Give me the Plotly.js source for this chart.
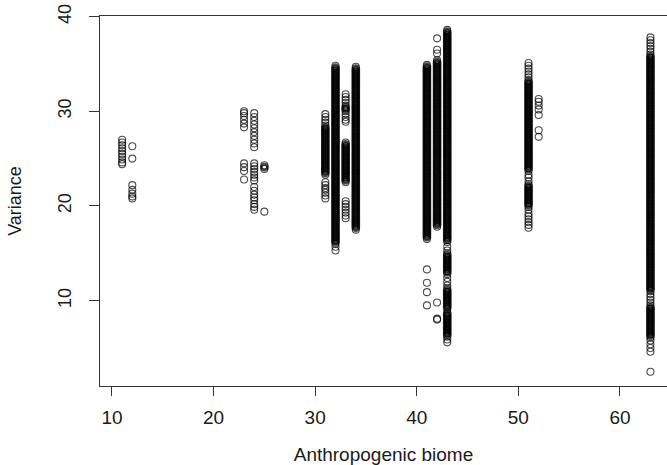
<!DOCTYPE html>
<html>
<head>
<meta charset="utf-8">
<script src="https://cdn.plot.ly/plotly-3.0.1.min.js"></script>
<style>html,body{margin:0;padding:0;background:#fff;}#chart{width:667px;height:465px;}</style>
</head>
<body>
<div id="chart"></div>
<script>
// Biome codes (x categories) and variance readings per biome
var biomes = [11, 12, 23, 24, 25, 31, 32, 33, 34, 41, 42, 43, 51, 52, 63];

var b11 = [27.0,26.7,26.4,26.1,25.8,25.5,25.2,24.9,24.6,24.4];
var b12 = [26.3,25.0,22.2,21.7,21.3,21.0,20.8];
var b23 = [30.0,29.8,29.5,29.1,28.7,28.3,24.5,24.1,23.7,22.8];
var b24 = [29.8,29.4,29.0,28.6,28.2,27.8,27.4,27.0,26.6,26.2,24.5,24.2,23.9,23.6,23.3,23.0,22.7,22.0,21.6,21.2,20.9,20.6,20.2,19.9,19.6];
var b25 = [24.3,24.1,23.9,19.4];
var b31 = [29.7,29.4,29.1,28.8,28.5,28.3,28.1,27.9,27.7,27.5,27.3,27.1,26.9,26.7,26.5,26.3,26.1,25.9,25.7,25.5,25.3,25.1,24.9,24.7,24.5,24.3,24.1,23.9,23.7,23.5,23.3,22.5,22.2,21.9,21.7,21.4,21.1,20.8];
var b32 = [34.8,34.6,34.4,34.2,34.0,33.8,33.6,33.4,33.2,33.0,32.8,32.6,32.4,32.2,32.0,31.8,31.6,31.4,31.2,31.0,30.8,30.6,30.4,30.2,30.0,29.8,29.6,29.4,29.2,29.0,28.8,28.6,28.4,28.2,28.0,27.8,27.6,27.4,27.2,27.0,26.8,26.6,26.4,26.2,26.0,25.8,25.6,25.4,25.2,25.0,24.8,24.6,24.4,24.2,24.0,23.8,23.6,23.4,23.2,23.0,22.8,22.6,22.4,22.2,22.0,21.8,21.6,21.4,21.2,21.0,20.8,20.6,20.4,20.2,20.0,19.8,19.6,19.4,19.2,19.0,18.8,18.6,18.4,18.2,18.0,17.8,17.6,17.4,17.2,17.0,16.8,16.6,16.4,16.2,16.0,15.7,15.3];
var b33 = [31.8,31.5,31.2,30.9,30.6,30.4,30.2,30.0,29.7,29.4,29.1,28.9,26.7,26.5,26.3,26.1,25.9,25.7,25.5,25.3,25.1,24.9,24.7,24.5,24.3,24.1,23.9,23.7,23.5,23.3,23.1,22.9,22.7,22.5,20.5,20.2,19.9,19.6,19.3,19.0,18.7];
var b34 = [34.7,34.5,34.3,34.1,33.9,33.7,33.5,33.3,33.1,32.9,32.7,32.5,32.3,32.1,31.9,31.7,31.5,31.3,31.1,30.9,30.7,30.5,30.3,30.1,29.9,29.7,29.5,29.3,29.1,28.9,28.7,28.5,28.3,28.1,27.9,27.7,27.5,27.3,27.1,26.9,26.7,26.5,26.3,26.1,25.9,25.7,25.5,25.3,25.1,24.9,24.7,24.5,24.3,24.1,23.9,23.7,23.5,23.3,23.1,22.9,22.7,22.5,22.3,22.1,21.9,21.7,21.5,21.3,21.1,20.9,20.7,20.5,20.3,20.1,19.9,19.7,19.5,19.3,19.1,18.9,18.7,18.5,18.3,18.1,17.9,17.7,17.5];
var b41 = [34.9,34.7,34.5,34.3,34.1,33.9,33.7,33.5,33.3,33.1,32.9,32.7,32.5,32.3,32.1,31.9,31.7,31.5,31.3,31.1,30.9,30.7,30.5,30.3,30.1,29.9,29.7,29.5,29.3,29.1,28.9,28.7,28.5,28.3,28.1,27.9,27.7,27.5,27.3,27.1,26.9,26.7,26.5,26.3,26.1,25.9,25.7,25.5,25.3,25.1,24.9,24.7,24.5,24.3,24.1,23.9,23.7,23.5,23.3,23.1,22.9,22.7,22.5,22.3,22.1,21.9,21.7,21.5,21.3,21.1,20.9,20.7,20.5,20.3,20.1,19.9,19.7,19.5,19.3,19.1,18.9,18.7,18.5,18.3,18.1,17.9,17.7,17.5,17.3,17.1,16.9,16.7,16.5,13.3,11.9,10.9,9.5];
var b42 = [37.7,36.5,36.1,35.4,35.2,35.0,34.8,34.6,34.4,34.2,34.0,33.8,33.6,33.4,33.2,33.0,32.8,32.6,32.4,32.2,32.0,31.8,31.6,31.4,31.2,31.0,30.8,30.6,30.4,30.2,30.0,29.8,29.6,29.4,29.2,29.0,28.8,28.6,28.4,28.2,28.0,27.8,27.6,27.4,27.2,27.0,26.8,26.6,26.4,26.2,26.0,25.8,25.6,25.4,25.2,25.0,24.8,24.6,24.4,24.2,24.0,23.8,23.6,23.4,23.2,23.0,22.8,22.6,22.4,22.2,22.0,21.8,21.6,21.4,21.2,21.0,20.8,20.6,20.4,20.2,20.0,19.8,19.6,19.4,19.2,19.0,18.8,18.6,18.4,18.2,18.0,17.8,9.8,8.1,8.0];
var b43 = [38.6,38.4,38.2,38.0,37.8,37.6,37.4,37.2,37.0,36.8,36.6,36.4,36.2,36.0,35.8,35.6,35.4,35.2,35.0,34.8,34.6,34.4,34.2,34.0,33.8,33.6,33.4,33.2,33.0,32.8,32.6,32.4,32.2,32.0,31.8,31.6,31.4,31.2,31.0,30.8,30.6,30.4,30.2,30.0,29.8,29.6,29.4,29.2,29.0,28.8,28.6,28.4,28.2,28.0,27.8,27.6,27.4,27.2,27.0,26.8,26.6,26.4,26.2,26.0,25.8,25.6,25.4,25.2,25.0,24.8,24.6,24.4,24.2,24.0,23.8,23.6,23.4,23.2,23.0,22.8,22.6,22.4,22.2,22.0,21.8,21.6,21.4,21.2,21.0,20.8,20.6,20.4,20.2,20.0,19.8,19.6,19.4,19.2,19.0,18.8,18.6,18.4,18.2,18.0,17.8,17.6,17.4,17.2,17.0,16.8,16.6,16.4,16.2,15.7,15.3,15.0,14.8,14.6,14.4,14.2,14.0,13.8,13.6,13.4,13.2,13.0,12.8,12.4,12.0,11.6,11.3,11.1,10.9,10.7,10.5,10.3,10.1,9.9,9.7,9.5,9.3,9.1,8.8,8.6,8.4,8.2,8.0,7.8,7.6,7.4,7.2,7.0,6.8,6.6,6.4,6.2,5.9,5.6];
var b51 = [35.1,34.8,34.5,34.2,33.9,33.6,33.3,33.1,32.9,32.7,32.5,32.3,32.1,31.9,31.7,31.5,31.3,31.1,30.9,30.7,30.5,30.3,30.1,29.9,29.7,29.5,29.3,29.1,28.9,28.7,28.5,28.3,28.1,27.9,27.7,27.5,27.3,27.1,26.9,26.7,26.5,26.3,26.1,25.9,25.7,25.5,25.3,25.1,24.9,24.7,24.5,24.3,24.1,23.9,23.7,23.3,23.0,22.6,22.3,22.1,21.9,21.7,21.5,21.3,21.1,20.9,20.7,20.5,20.3,20.1,19.9,19.6,19.2,18.9,18.6,18.3,18.0,17.7];
var b52 = [31.3,31.0,30.6,30.2,29.6,28.0,27.3];
var b63 = [37.8,37.5,37.2,36.9,36.6,36.3,36.0,35.8,35.6,35.4,35.2,35.0,34.8,34.6,34.4,34.2,34.0,33.8,33.6,33.4,33.2,33.0,32.8,32.6,32.4,32.2,32.0,31.8,31.6,31.4,31.2,31.0,30.8,30.6,30.4,30.2,30.0,29.8,29.6,29.4,29.2,29.0,28.8,28.6,28.4,28.2,28.0,27.8,27.6,27.4,27.2,27.0,26.8,26.6,26.4,26.2,26.0,25.8,25.6,25.4,25.2,25.0,24.8,24.6,24.4,24.2,24.0,23.8,23.6,23.4,23.2,23.0,22.8,22.6,22.4,22.2,22.0,21.8,21.6,21.4,21.2,21.0,20.8,20.6,20.4,20.2,20.0,19.8,19.6,19.4,19.2,19.0,18.8,18.6,18.4,18.2,18.0,17.8,17.6,17.4,17.2,17.0,16.8,16.6,16.4,16.2,16.0,15.8,15.6,15.4,15.2,15.0,14.8,14.6,14.4,14.2,14.0,13.8,13.6,13.4,13.2,13.0,12.8,12.6,12.4,12.2,12.0,11.8,11.6,11.4,11.2,11.0,10.7,10.4,10.1,9.8,9.5,9.3,9.1,8.9,8.7,8.5,8.3,8.1,7.9,7.7,7.5,7.3,7.1,6.9,6.7,6.5,6.3,6.1,5.8,5.4,5.0,4.6,2.5];

var xTicks = [10, 20, 30, 40, 50, 60];
var yTicks = [10, 20, 30, 40];

var groups = [b11, b12, b23, b24, b25, b31, b32, b33, b34, b41, b42, b43, b51, b52, b63];
var xs = [], ys = [], lw = [], ms = [];
for (var i = 0; i < biomes.length; i++) {
  var g = groups[i];
  for (var j = 0; j < g.length; j++) {
    xs.push(biomes[i]);
    ys.push(g[j]);
    // overlapping rings inside densely packed runs render as a solid bar
    var prev = j > 0 ? Math.abs(g[j - 1] - g[j]) : 99;
    var next = j < g.length - 1 ? Math.abs(g[j + 1] - g[j]) : 99;
    var dense = prev < 0.25 && next < 0.25;
    lw.push(dense ? 2.6 : 1.1);
    ms.push(dense ? 6.2 : 7);
  }
}

var font = 'Liberation Sans, Arial, sans-serif';
var trace = {
  x: xs, y: ys, type: 'scatter', mode: 'markers',
  marker: {symbol: 'circle-open', size: ms, color: '#000', line: {width: lw, color: '#000'}},
  hoverinfo: 'none'
};

var layout = {
  width: 667, height: 465,
  margin: {l: 100, r: 0, t: 16, b: 79},
  paper_bgcolor: '#fff', plot_bgcolor: '#fff',
  showlegend: false,
  font: {family: font, color: '#1a1a1a', size: 19},
  xaxis: {
    range: [8.82, 64.63], tickvals: xTicks, ticktext: xTicks.map(String),
    ticks: 'outside', ticklen: 9, tickwidth: 1, tickcolor: '#333',
    showline: true, linecolor: '#333', linewidth: 1, mirror: true,
    showgrid: false, zeroline: false, ticklabelstandoff: 5,
    tickfont: {family: font, size: 19, color: '#1a1a1a'},
    title: {text: 'Anthropogenic biome', font: {family: font, size: 19, color: '#1a1a1a'}, standoff: 26},
    automargin: false
  },
  yaxis: {
    range: [0.99, 40.06], tickvals: yTicks, ticktext: yTicks.map(String),
    ticks: 'outside', ticklen: 10, tickwidth: 1, tickcolor: '#333', tickangle: -90,
    showline: true, linecolor: '#333', linewidth: 1, mirror: false,
    showgrid: false, zeroline: false, ticklabelstandoff: 11,
    tickfont: {family: font, size: 18, color: '#1a1a1a'},
    title: {text: 'Variance', font: {family: font, size: 18, color: '#1a1a1a'}, standoff: 28},
    automargin: false
  }
};

Plotly.newPlot('chart', [trace], layout, {displayModeBar: false, staticPlot: true});
</script>
</body>
</html>
